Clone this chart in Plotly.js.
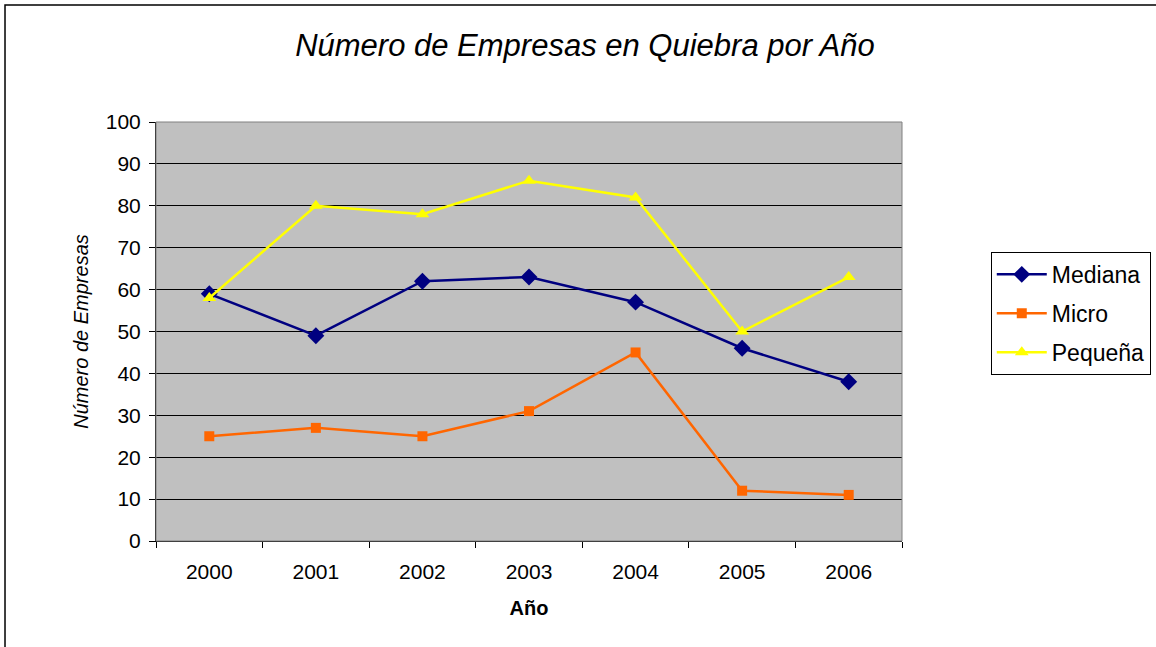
<!DOCTYPE html>
<html>
<head>
<meta charset="utf-8">
<script src="https://cdn.plot.ly/plotly-3.0.1.min.js"></script>
<style>
  body { margin: 0; background: #fff; }
  #chart { width: 1156px; height: 647px; }
</style>
</head>
<body>
<div id="chart"></div>
<script>
var years = ["2000", "2001", "2002", "2003", "2004", "2005", "2006"];
var mediana = [59, 49, 62, 63, 57, 46, 38];
var micro = [25, 27, 25, 31, 45, 12, 11];
var pequena = [58, 80, 78, 86, 82, 50, 63];

var traces = [
  {
    x: years, y: mediana, name: "Mediana", type: "scatter", mode: "lines+markers",
    legendgroup: "a",
    line: {color: "#000080", width: 2.5},
    marker: {symbol: "diamond", size: 13, color: "#000080"}
  },
  {
    x: years, y: micro, name: "Micro", type: "scatter", mode: "lines+markers",
    legendgroup: "b",
    line: {color: "#FF6600", width: 2.5},
    marker: {symbol: "square", size: 10, color: "#FF6600"}
  },
  {
    x: years, y: pequena, name: "Pequeña", type: "scatter", mode: "lines+markers",
    legendgroup: "c",
    line: {color: "#FFFF00", width: 2.5},
    marker: {symbol: "triangle-up", size: 12, color: "#FFFF00"}
  }
];

var layout = {
  width: 1156,
  height: 647,
  margin: {l: 156, r: 254, t: 122, b: 106, autoexpand: false},
  paper_bgcolor: "#ffffff",
  plot_bgcolor: "#C0C0C0",
  font: {family: "Liberation Sans, Arial, sans-serif", color: "#000", size: 21},
  title: {
    text: "<i>Número de Empresas en Quiebra por Año</i>",
    font: {size: 31, family: "Liberation Sans, Arial, sans-serif"},
    x: 0.506, xanchor: "center", y: 0.93, yanchor: "middle"
  },
  xaxis: {
    type: "category",
    range: [-0.5, 6.5],
    tickson: "boundaries",
    ticks: "outside",
    ticklen: 6,
    tickcolor: "#000",
    ticklabelstandoff: 12,
    showline: true,
    linecolor: "#000",
    linewidth: 1,
    showgrid: false,
    tickfont: {size: 21},
    title: {text: "<b>Año</b>", font: {size: 20}, standoff: 18}
  },
  yaxis: {
    range: [0, 100],
    dtick: 10,
    ticks: "outside",
    ticklen: 6,
    tickcolor: "#000",
    ticklabelstandoff: 4,
    showline: true,
    linecolor: "#000",
    linewidth: 1,
    showgrid: true,
    gridcolor: "#000",
    gridwidth: 1,
    zeroline: false,
    tickfont: {size: 21},
    title: {text: "<i>Número de Empresas</i>", font: {size: 20}, standoff: 11}
  },
  legend: {
    x: 1.119, xanchor: "left",
    y: 0.69, yanchor: "top",
    bgcolor: "#fff",
    bordercolor: "#000",
    borderwidth: 1,
    font: {size: 23},
    traceorder: "grouped",
    tracegroupgap: 6,
    itemwidth: 50
  },
  shapes: [
    {type: "rect", xref: "paper", yref: "paper", x0: 0, x1: 1, y0: 0, y1: 1,
     line: {color: "#808080", width: 1}, fillcolor: "rgba(0,0,0,0)", layer: "above"},
    {type: "rect", xref: "paper", yref: "paper", x0: -0.2024, x1: 1.4, y0: -0.4, y1: 1.279,
     line: {color: "#000", width: 1.5}, fillcolor: "rgba(0,0,0,0)"}
  ]
};

Plotly.newPlot("chart", traces, layout, {staticPlot: true});
</script>
</body>
</html>
